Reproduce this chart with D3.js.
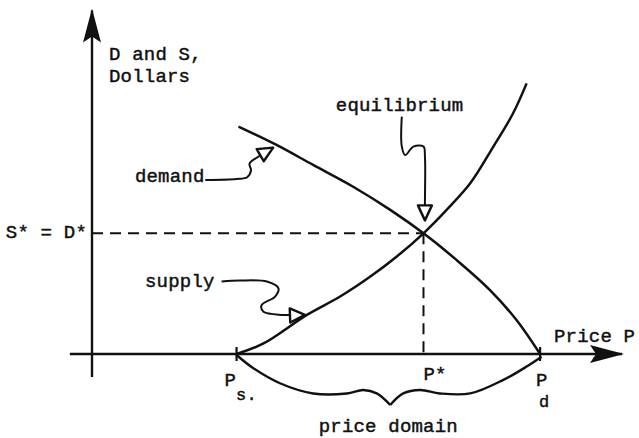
<!DOCTYPE html>
<html lang="en">
<head>
  <meta charset="UTF-8">
  <title>Supply and demand</title>
  <script src="https://cdn.jsdelivr.net/npm/d3@7"></script>
</head>
<body style="margin:0; background:#fff;">
<script>
  // price (x) and dollars (y)
  const supplyPrice   = [3.0, 3.56, 4.46, 5.15, 5.77, 6.32, 6.88, 7.36, 7.85, 8.33, 8.74, 9.02];
  const supplyDollars = [0, 0.31, 1.15, 1.69, 2.27, 2.86, 3.55, 4.24, 5.02, 6.10, 7.08, 7.96];
  const demandPrice   = [3.04, 3.83, 4.59, 5.42, 6.19, 6.88, 7.57, 8.26, 8.81, 9.30];
  const demandDollars = [6.69, 6.15, 5.56, 4.92, 4.24, 3.55, 2.76, 1.88, 1.00, 0];

  const priceTicks = ["Ps", "P*", "Pd"];
  const priceTickValues = [3.0, 6.88, 9.3];
  const equilibriumDollars = 3.55;

  // brace under the price domain, left half ends at the tip, right half starts there
  const braceLeftX  = [3.0, 3.35, 3.90, 4.59, 5.29, 5.63, 5.91, 6.19];
  const braceLeftY  = [-0.03, -0.42, -0.86, -1.16, -1.16, -1.06, -1.16, -1.50];
  const braceRightX = [6.19, 6.46, 6.81, 7.22, 7.85, 8.54, 9.02, 9.33];
  const braceRightY = [-1.50, -1.16, -1.06, -1.16, -1.16, -0.76, -0.37, -0.08];

  // wavy call-out arrows
  const demandCallX = [2.35, 3.0, 3.22, 3.30, 3.27, 3.45, 3.76];
  const demandCallY = [5.12, 5.15, 5.20, 5.40, 5.60, 5.80, 6.07];
  const supplyCallX = [2.69, 3.07, 3.63, 3.87, 3.80, 3.52, 3.56, 3.97, 4.42];
  const supplyCallY = [2.13, 2.16, 2.13, 1.93, 1.69, 1.44, 1.24, 1.15, 1.15];
  const equilCallX  = [6.43, 6.43, 6.50, 6.67, 6.88, 6.91, 6.91, 6.91];
  const equilCallY  = [6.98, 6.10, 5.85, 6.10, 6.10, 5.80, 4.43, 3.93];

  const width = 639, height = 438;
  const x = d3.scaleLinear().domain([0, 11]).range([92, 622]);
  const y = d3.scaleLinear().domain([0, 10]).range([354, 14]);
  const ink = "#111";
  const font = "'Liberation Mono', 'Courier New', monospace";

  const zip = (xs, ys) => xs.map((v, i) => [v, ys[i]]);
  const smooth = d3.line().x(d => x(d[0])).y(d => y(d[1])).curve(d3.curveCatmullRom.alpha(0.5));

  const svg = d3.select("body").append("svg")
    .attr("width", width)
    .attr("height", height)
    .style("background", "#fff")
    .style("display", "block");

  const defs = svg.append("defs");
  defs.append("marker")
    .attr("id", "axis-head")
    .attr("markerUnits", "userSpaceOnUse")
    .attr("viewBox", "0 -10 34 20")
    .attr("markerWidth", 34).attr("markerHeight", 20)
    .attr("refX", 32).attr("refY", 0)
    .attr("orient", "auto")
    .append("path")
    .attr("d", "M0,-9 L34,0 L0,9 L6,0 Z")
    .attr("fill", ink);
  defs.append("marker")
    .attr("id", "call-head")
    .attr("markerUnits", "userSpaceOnUse")
    .attr("viewBox", "-2 -10 20 20")
    .attr("markerWidth", 20).attr("markerHeight", 20)
    .attr("refX", 15).attr("refY", 0)
    .attr("orient", "auto")
    .append("path")
    .attr("d", "M0,-7 L15,0 L0,7 Z")
    .attr("fill", "#fff")
    .attr("stroke", ink)
    .attr("stroke-width", 2.4)
    .attr("stroke-linejoin", "round");

  // axes
  svg.append("line")
    .attr("x1", x(0)).attr("y1", y(-0.68))
    .attr("x2", x(0)).attr("y2", y(10.1))
    .attr("stroke", ink).attr("stroke-width", 2.4)
    .attr("marker-end", "url(#axis-head)");
  svg.append("line")
    .attr("x1", x(-0.46)).attr("y1", y(0))
    .attr("x2", x(11)).attr("y2", y(0))
    .attr("stroke", ink).attr("stroke-width", 2.4)
    .attr("marker-end", "url(#axis-head)");

  // tick crosses at Ps and Pd
  svg.selectAll(".tick")
    .data([priceTickValues[0], priceTickValues[2]])
    .enter().append("line")
    .attr("class", "tick")
    .attr("x1", d => x(d)).attr("x2", d => x(d))
    .attr("y1", y(0) - 7).attr("y2", y(0) + 7)
    .attr("stroke", ink).attr("stroke-width", 2.2);

  // dashed guides to equilibrium
  svg.append("line")
    .attr("x1", x(0)).attr("y1", y(equilibriumDollars))
    .attr("x2", x(priceTickValues[1])).attr("y2", y(equilibriumDollars))
    .attr("stroke", ink).attr("stroke-width", 2).attr("stroke-dasharray", "11,7");
  svg.append("line")
    .attr("x1", x(priceTickValues[1])).attr("y1", y(equilibriumDollars))
    .attr("x2", x(priceTickValues[1])).attr("y2", y(0))
    .attr("stroke", ink).attr("stroke-width", 2).attr("stroke-dasharray", "11,7");

  // supply and demand curves
  [zip(supplyPrice, supplyDollars), zip(demandPrice, demandDollars)].forEach(pts => {
    svg.append("path")
      .attr("d", smooth(pts))
      .attr("fill", "none").attr("stroke", ink).attr("stroke-width", 2.5);
  });

  // brace
  [zip(braceLeftX, braceLeftY), zip(braceRightX, braceRightY)].forEach(pts => {
    svg.append("path")
      .attr("d", smooth(pts))
      .attr("fill", "none").attr("stroke", ink).attr("stroke-width", 2.4)
      .attr("stroke-linejoin", "miter");
  });

  // call-outs
  [zip(demandCallX, demandCallY), zip(supplyCallX, supplyCallY), zip(equilCallX, equilCallY)].forEach(pts => {
    svg.append("path")
      .attr("d", smooth(pts))
      .attr("fill", "none").attr("stroke", ink).attr("stroke-width", 2)
      .attr("marker-end", "url(#call-head)");
  });

  const text = (px, py, str, anchor, size) => svg.append("text")
    .attr("x", px).attr("y", py)
    .attr("text-anchor", anchor || "start")
    .attr("fill", ink)
    .attr("stroke", ink)
    .attr("stroke-width", 0.45)
    .style("font-family", font)
    .style("font-size", (size || 19) + "px")
    .style("letter-spacing", "0.2px")
    .text(str);

  text(x(0) + 17, y(10) + 46, "D and S,");
  text(x(0) + 17, y(10) + 68, "Dollars");
  text(x(0.89), y(5.06), "demand");
  text(x(5.06), y(7.15), "equilibrium");
  text(x(1.10), y(1.97), "supply");
  text(x(0) - 5, y(equilibriumDollars) + 5, "S* = D*", "end");
  text(x(11) - 68, y(0) - 12, "Price P");

  // price tick labels, subscripts set as separate lines of text
  text(x(priceTickValues[0]) - 12, y(0) + 32, "P");
  text(x(priceTickValues[0]) - 0.5, y(0) + 46, "s.", "start", 17);
  text(x(priceTickValues[1]), y(0) + 26, "P*");
  text(x(priceTickValues[2]) - 4, y(0) + 32, "P");
  text(x(priceTickValues[2]) - 1, y(0) + 53, "d", "start", 17);

  text((x(priceTickValues[0]) + x(priceTickValues[2])) / 2, y(-2.28), "price domain", "middle");
</script>
</body>
</html>
